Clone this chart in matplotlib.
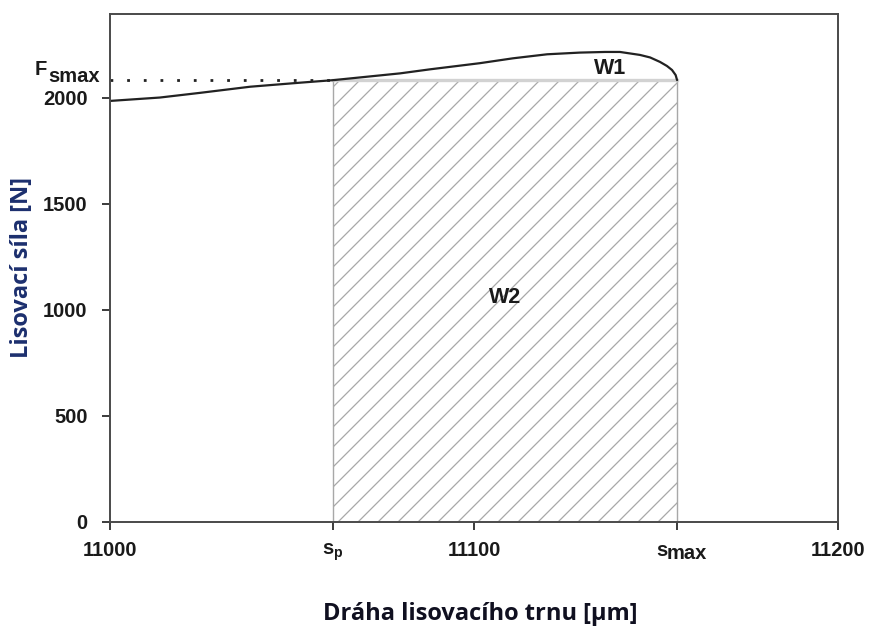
import matplotlib.pyplot as plt

DPI = 120
S = 100 / DPI   # sizes below are tuned at 100 dpi, scaled so the hatch spacing fits

plt.rcParams['mathtext.fontset'] = 'custom'
plt.rcParams['mathtext.rm'] = 'Liberation Sans'
plt.rcParams['mathtext.bf'] = 'Liberation Sans:bold'
plt.rcParams['hatch.color'] = '#a0a0a0'
plt.rcParams['hatch.linewidth'] = 0.9 * S

# curve: press path [um] vs force [N]
path_um = [11000, 11013.7, 11024.7, 11038.5, 11052.2, 11061.3, 11079.7, 11087.9,
           11101.6, 11110.7, 11120.1, 11129.1, 11136, 11140.1, 11145.6, 11148.4,
           11151.1, 11153, 11154.4, 11155.4, 11155.8]
force_n = [1986, 2002, 2024, 2053, 2072, 2084, 2116, 2135,
           2164, 2187, 2206, 2214, 2217, 2217, 2203, 2191,
           2170, 2151, 2132, 2108, 2084]

s_p = 11061.3
s_max = 11155.8
f_smax = 2084

x_ticks = [11000, s_p, 11100, s_max, 11200]
x_labels = ['11000', r'$\mathbf{s_p}$', '11100', '', '11200']
y_ticks = [0, 500, 1000, 1500, 2000]

bold = dict(family='Liberation Sans', fontweight='bold', color='#1a1a1a')

fig = plt.figure(figsize=(872 / DPI, 628 / DPI), dpi=DPI)
ax = fig.add_axes([0.1261, 0.1688, 0.8349, 0.8089])

ax.fill_between([s_p, s_max], 0, f_smax, facecolor='none', edgecolor='#a8a8a8',
                hatch='//', linewidth=1.0 * S)
ax.plot([s_p, s_max], [f_smax, f_smax], color='#d2d2d2', lw=2.4 * S)
ax.plot([11000, s_p], [f_smax, f_smax], color='#222222', lw=2.0 * S,
        ls=(0, (1, 5)))
ax.plot(path_um, force_n, color='#222222', lw=1.6 * S, solid_capstyle='round',
        solid_joinstyle='round')

ax.set_xlim(11000, 11200)
ax.set_ylim(0, 2396)
ax.set_xticks(x_ticks)
ax.set_xticklabels(x_labels)
ax.set_yticks(y_ticks)
for lab in ax.get_xticklabels() + ax.get_yticklabels():
    lab.set_fontfamily('Liberation Sans')
    lab.set_fontweight('bold')
    lab.set_fontsize(14.5 * S)
ax.tick_params(axis='x', direction='out', length=6 * S, width=1.2 * S, pad=8 * S,
               colors='#1a1a1a')
ax.tick_params(axis='y', direction='out', length=6 * S, width=1.2 * S, pad=10 * S,
               colors='#1a1a1a')
for sp in ax.spines.values():
    sp.set_color('#4a4a4a')
    sp.set_linewidth(1.4 * S)

# s_max tick label: "s" with a lowered "max"
off = -(6 + 8) * 100 / 72
ax.annotate('s', xy=(s_max, 0), xycoords=('data', 'axes fraction'),
            xytext=(-10, off), textcoords='offset pixels', ha='right', va='top',
            fontsize=14.5 * S, **bold)
ax.annotate('max', xy=(s_max, 0), xycoords=('data', 'axes fraction'),
            xytext=(-10, off - 3), textcoords='offset pixels', ha='left', va='top',
            fontsize=14.5 * S, **bold)

# F_smax label on the left of the dotted level
ax.annotate('F', xy=(0, f_smax), xycoords=('axes fraction', 'data'),
            xytext=(-63, 5), textcoords='offset pixels', ha='right', va='baseline',
            fontsize=14.5 * S, **bold)
ax.annotate('smax', xy=(0, f_smax), xycoords=('axes fraction', 'data'),
            xytext=(-62, -2), textcoords='offset pixels', ha='left', va='baseline',
            fontsize=14.5 * S, **bold)

ax.text(11137.4, 2139, 'W1', ha='center', va='center', fontsize=15.5 * S, **bold)
ax.text(11108.5, 1061, 'W2', ha='center', va='center', fontsize=15.5 * S, **bold)

ax.set_xlabel('Dráha lisovacího trnu [µm]', family='Open Sans', fontweight='bold',
              fontsize=17 * S, color='#101020')
ax.xaxis.set_label_coords(0.508, -0.193)
ax.xaxis.label.set_va('baseline')
ax.set_ylabel('Lisovací síla [N]', family='Open Sans', fontweight='bold',
              fontsize=17 * S, color='#1c2f6e')
ax.yaxis.set_label_coords(-0.1209, 0.5)
ax.yaxis.label.set_va('center')

fig.savefig('out.png', dpi=DPI)
